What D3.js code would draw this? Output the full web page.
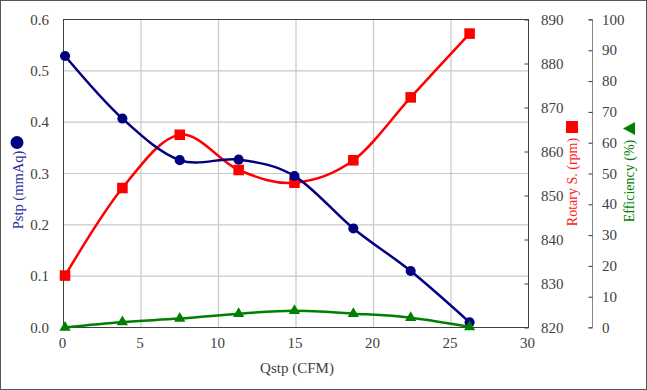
<!DOCTYPE html>
<html>
<head>
<meta charset="utf-8">
<script src="https://cdn.jsdelivr.net/npm/d3@7"></script>
<style>
  body { margin: 0; background: #fff; }
  text { font-family: "Liberation Serif", "DejaVu Serif", serif; }
</style>
</head>
<body>
<div id="chart-area"></div>
<script>
// data
var qstp = [0.1, 3.8, 7.5, 11.3, 14.9, 18.7, 22.4, 26.2];
var pstp = [0.529, 0.407, 0.326, 0.327, 0.295, 0.193, 0.110, 0.010];
var rotary = [831.8, 851.7, 863.8, 855.8, 852.9, 858.0, 872.3, 886.8];
var efficiency = [0, 1.8, 2.9, 4.5, 5.4, 4.5, 3.2, 0.2];

var xTicks = [0, 5, 10, 15, 20, 25, 30];
var pTicks = [0, 0.1, 0.2, 0.3, 0.4, 0.5, 0.6];
var rTicks = [820, 830, 840, 850, 860, 870, 880, 890];
var eTicks = [0, 10, 20, 30, 40, 50, 60, 70, 80, 90, 100];

var W = 647, H = 390;
var pLeft = 63.5, pRight = 528.5, pTop = 19.5, pBottom = 327.5;

var svg = d3.select("#chart-area").append("svg")
    .attr("width", W)
    .attr("height", H);

// outer frame
svg.append("rect")
    .attr("x", 0.5).attr("y", 0.5)
    .attr("width", W - 1).attr("height", H - 1)
    .attr("fill", "#fff")
    .attr("stroke", "#555");

var x = d3.scaleLinear().domain([0, 30]).range([pLeft, pRight]);
var yP = d3.scaleLinear().domain([0, 0.6]).range([pBottom, pTop]);
var yR = d3.scaleLinear().domain([820, 890]).range([pBottom, pTop]);
var yE = d3.scaleLinear().domain([0, 100]).range([pBottom, pTop]);

var labelColor = "#404040";

// gridlines
svg.append("g").selectAll("line")
    .data(pTicks.slice(1, -1))
    .enter().append("line")
        .attr("x1", pLeft).attr("x2", pRight)
        .attr("y1", (d) => yP(d)).attr("y2", (d) => yP(d))
        .attr("stroke", "#c8c8c8").attr("stroke-width", 1.2);

svg.append("g").selectAll("line")
    .data(xTicks.slice(1, -1))
    .enter().append("line")
        .attr("x1", (d) => x(d)).attr("x2", (d) => x(d))
        .attr("y1", pTop).attr("y2", pBottom)
        .attr("stroke", "#c8c8c8").attr("stroke-width", 1.2);

// plot box
svg.append("rect")
    .attr("x", pLeft).attr("y", pTop)
    .attr("width", pRight - pLeft).attr("height", pBottom - pTop)
    .attr("fill", "none")
    .attr("stroke", "#404040");

// left axis labels
svg.append("g").selectAll("text")
    .data(pTicks)
    .enter().append("text")
        .attr("x", 49)
        .attr("y", (d) => yP(d) + 5)
        .attr("text-anchor", "end")
        .attr("font-size", 15)
        .attr("fill", labelColor)
        .text((d) => d.toFixed(1));

// bottom axis labels
svg.append("g").selectAll("text")
    .data(xTicks)
    .enter().append("text")
        .attr("x", (d) => x(d) - 1)
        .attr("y", 348)
        .attr("text-anchor", "middle")
        .attr("font-size", 15)
        .attr("fill", labelColor)
        .text((d) => d);

// rotary axis: inward ticks on the right border
var rAxis = d3.axisLeft(yR).tickValues(rTicks).tickSize(4).tickFormat("");
var rg = svg.append("g").attr("transform", "translate(" + pRight + ",0)").call(rAxis);
rg.select(".domain").remove();
rg.selectAll(".tick line").attr("stroke", "#404040");

svg.append("g").selectAll("text")
    .data(rTicks)
    .enter().append("text")
        .attr("x", 541)
        .attr("y", (d) => yR(d) + 5)
        .attr("font-size", 15)
        .attr("fill", labelColor)
        .text((d) => d);

// efficiency axis
var eAxis = d3.axisLeft(yE).tickValues(eTicks).tickSize(4).tickFormat("");
var eg = svg.append("g").attr("transform", "translate(592.5,0)").call(eAxis);
eg.select(".domain").attr("stroke", "#888").attr("d", "M-4," + yE(100) + "H0V" + yE(0) + "H-4");
eg.selectAll(".tick line").attr("stroke", "#333");

svg.append("g").selectAll("text")
    .data(eTicks)
    .enter().append("text")
        .attr("x", 602)
        .attr("y", (d) => yE(d) + 5)
        .attr("font-size", 15)
        .attr("fill", labelColor)
        .text((d) => d);

// series
function series(ys, yScale, color, symbol, size) {
    var pts = qstp.map((q, i) => [x(q), yScale(ys[i])]);
    var line = d3.line().curve(d3.curveCatmullRom.alpha(0));
    svg.append("path")
        .attr("d", line(pts))
        .attr("fill", "none")
        .attr("stroke", color)
        .attr("stroke-width", 2.5);
    svg.append("g").selectAll("path")
        .data(pts)
        .enter().append("path")
            .attr("transform", (d) => "translate(" + d[0] + "," + d[1] + ")")
            .attr("d", d3.symbol().type(symbol).size(size)())
            .attr("fill", color);
}

series(rotary, yR, "#ff0000", d3.symbolSquare, 112);
series(pstp, yP, "#000080", d3.symbolCircle, 80);
series(efficiency, yE, "#008000", d3.symbolTriangle, 55);

// axis titles
svg.append("text")
    .attr("transform", "translate(23,190) rotate(-90)")
    .attr("text-anchor", "middle")
    .attr("font-size", 14.5)
    .attr("fill", "#2b2b9b")
    .text("Pstp (mmAq)");
svg.append("circle")
    .attr("cx", 17).attr("cy", 142.5).attr("r", 6.5)
    .attr("fill", "#000080");

svg.append("text")
    .attr("transform", "translate(577,182) rotate(-90)")
    .attr("text-anchor", "middle")
    .attr("font-size", 14)
    .attr("fill", "#ff2020")
    .text("Rotary S. (rpm)");
svg.append("rect")
    .attr("x", 566).attr("y", 121).attr("width", 12).attr("height", 12)
    .attr("fill", "#ff0000");

svg.append("text")
    .attr("transform", "translate(634,181) rotate(-90)")
    .attr("text-anchor", "middle")
    .attr("font-size", 14)
    .attr("fill", "#008000")
    .text("Efficiency (%)");
svg.append("path")
    .attr("d", "M623,128.5L635,122L635,135Z")
    .attr("fill", "#008000");

svg.append("text")
    .attr("x", 297)
    .attr("y", 373)
    .attr("text-anchor", "middle")
    .attr("font-size", 15)
    .attr("fill", labelColor)
    .text("Qstp (CFM)");
</script>
</body>
</html>
